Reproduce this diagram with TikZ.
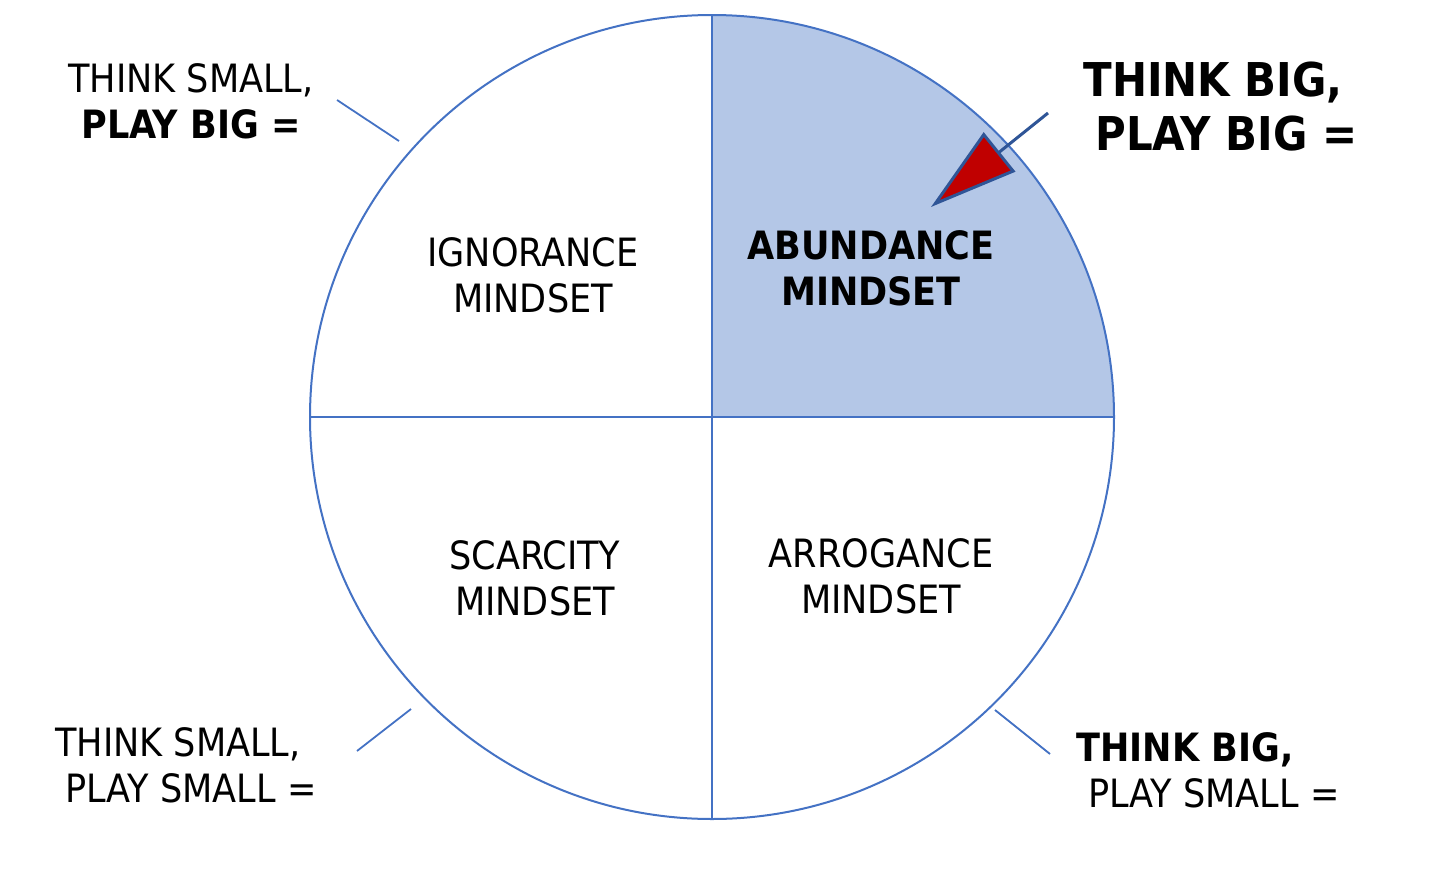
\documentclass[tikz,border=0pt]{standalone}
\usepackage{fontspec}
\setmainfont{DejaVu Sans Condensed}
\usepackage{xcolor}
\definecolor{WheelBlue}{HTML}{4472C4}
\definecolor{AbundFill}{HTML}{B4C7E7}
\definecolor{ArrowBlue}{HTML}{2F5597}
\definecolor{TipRed}{HTML}{C00000}
\usetikzlibrary{arrows.meta,positioning}

\begin{document}
\begin{tikzpicture}[
  x=0.5pt, y=-0.5pt,
  rim/.style={draw=WheelBlue, line width=1pt},
  quad/.style={align=center, inner sep=0pt, font=\fontsize{19.5}{23}\selectfont},
  tag/.style={align=left, inner sep=0pt, font=\fontsize{19.5}{23}\selectfont},
  bigtag/.style={align=left, inner sep=0pt, font=\fontsize{23.3}{27}\selectfont},
  lead/.style={draw=WheelBlue, line width=0.9pt},
  pointer/.style={-{Triangle[length=44pt, width=25pt, fill=TipRed]},
                  draw=ArrowBlue, line width=1.5pt},
]
\useasboundingbox (0,0) rectangle (1430,884);

% wheel with the highlighted quadrant
\coordinate (hub) at (712,417);
\fill[AbundFill] (hub) -- ++(0,-402) arc[start angle=-90, end angle=0, radius=402] -- cycle;
\node[rim, circle, minimum size=402pt, inner sep=0pt] (wheel) at (hub) {};
\draw[rim] (wheel.north) -- (wheel.south);
\draw[rim] (wheel.west) -- (wheel.east);

% quadrant names
\node[quad] (ignorance) at (533,275) {IGNORANCE\\MINDSET};
\node[quad, font=\fontsize{19.5}{23}\selectfont\bfseries] (abundance) at (871,268) {ABUNDANCE\\MINDSET};
\node[quad] (scarcity) at (535,578) {SCARCITY\\MINDSET};
\node[quad] (arrogance) at (881,576) {ARROGANCE\\MINDSET};

% outer labels
\node[tag, align=center] (smallbig) at (191,101) {THINK SMALL,\\\textbf{PLAY BIG =}};
\node[bigtag, anchor=west] (bigbig) at (1083,107)
  {\textbf{THINK BIG,}\\\hspace*{6pt}\textbf{PLAY BIG =}};
\node[tag, anchor=west] (smallsmall) at (55,765)
  {THINK SMALL,\\\hspace*{5pt}PLAY SMALL =};
\node[tag, anchor=west] (bigsmall) at (1076,770)
  {\textbf{THINK BIG,}\\\hspace*{6pt}PLAY SMALL =};

% leader lines
\coordinate (tl1) at (337,100);
\coordinate (tl2) at (399,141);
\coordinate (bl1) at (357,751);
\coordinate (bl2) at (411,709);
\coordinate (br1) at (995,710);
\coordinate (br2) at (1050,754);
\draw[lead] (tl1) -- (tl2);
\draw[lead] (bl1) -- (bl2);
\draw[lead] (br1) -- (br2);

% pointer into the abundance quadrant
\coordinate (tail) at (1048,113);
\coordinate (tip) at (931,207);
\draw[pointer] (tail) -- (tip);
\end{tikzpicture}
\end{document}
